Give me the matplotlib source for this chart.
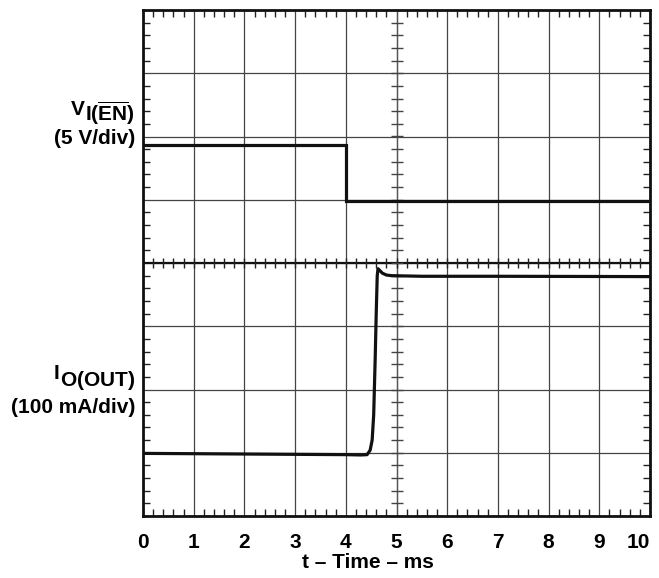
import matplotlib
matplotlib.use('Agg')
import matplotlib.pyplot as plt
from matplotlib.ticker import MultipleLocator
import numpy as np

plt.rcParams['font.family'] = ['Liberation Sans', 'DejaVu Sans']
plt.rcParams['font.weight'] = 'bold'
plt.rcParams['mathtext.fontset'] = 'custom'
plt.rcParams['mathtext.rm'] = 'Liberation Sans:bold'
plt.rcParams['mathtext.bf'] = 'Liberation Sans:bold'

# enable voltage trace (divisions, 0..8 from bottom)
v_t = [0.0, 4.0, 4.0, 10.0]
v_div = [5.86, 5.86, 4.98, 4.98]

# output current trace (divisions)
i_t = [0.0, 1.0, 2.0, 3.0, 4.0, 4.3, 4.42, 4.48, 4.52, 4.55, 4.58, 4.60,
       4.62, 4.635, 4.66, 4.72, 4.8, 4.9, 5.5, 7.0, 10.0]
i_div = [0.99, 0.985, 0.98, 0.975, 0.97, 0.965, 0.97, 1.04, 1.2, 1.6, 2.5, 3.2,
         3.8, 3.91, 3.89, 3.84, 3.81, 3.80, 3.79, 3.79, 3.785]

x_ticks = list(range(0, 11))
y_grid = list(range(0, 9))

W, H = 659, 578
fig = plt.figure(figsize=(W / 100, H / 100), dpi=100)
fig.patch.set_facecolor('white')
ax = fig.add_axes([143 / W, 1 - 516 / H, (650 - 143) / W, (516 - 10) / H])

ax.set_xlim(0, 10)
ax.set_ylim(0, 8)
ax.set_xticks(x_ticks)
ax.set_yticks(y_grid)
ax.set_yticklabels([])
ax.xaxis.set_minor_locator(MultipleLocator(0.2))
ax.yaxis.set_minor_locator(MultipleLocator(0.2))
ax.tick_params(which='major', length=0, pad=12, labelsize=15)
ax.tick_params(which='minor', direction='in', length=5, width=1,
               top=True, right=True, color='#222222')
for lab in ax.get_xticklabels():
    lab.set_fontweight('bold')
ax.get_xticklabels()[-1].set_horizontalalignment('right')
ax.get_xticklabels()[-1].set_x(10)

ax.grid(True, which='major', color='#444444', linewidth=0.9)
for sp in ax.spines.values():
    sp.set_linewidth(2)
    sp.set_color('#111111')

# centre graticule lines with crossing ticks
ax.axhline(4, color='#111111', linewidth=1.6, zorder=2)
ax.axvline(5, color='#555555', linewidth=0.9, zorder=2)
mt = np.arange(0.2, 10, 0.2)
ax.plot(mt, np.full(len(mt), 4.0), ls='none', marker='|', ms=7.5, mew=1,
        color='#222222', zorder=2)
my = np.arange(0.2, 8, 0.2)
ax.plot(np.full(len(my), 5.0), my, ls='none', marker='_', ms=9, mew=1,
        color='#444444', zorder=2)

ax.plot(v_t, v_div, color='#111111', linewidth=2.3, zorder=3,
        solid_joinstyle='miter')
ax.plot(i_t, i_div, color='#111111', linewidth=2.3, zorder=3)

fig.text(368 / W, 1 - 563 / H, 't \u2013 Time \u2013 ms', ha='center', va='center',
         fontsize=15, fontweight='bold')

# channel labels
renderer = fig.canvas.get_renderer()
xr = 135 / W


def channel_label(main, sub, y_main, y_sub, y_scale, scale):
    s = fig.text(xr, 1 - y_sub / H, sub, ha='right', va='baseline', fontsize=15)
    bb = s.get_window_extent(renderer)
    fig.text((bb.x0 - 0.5) / W, 1 - y_main / H, main, ha='right', va='baseline',
             fontsize=15, fontweight='bold')
    fig.text(xr, 1 - y_scale / H, scale, ha='right', va='baseline',
             fontsize=15, fontweight='bold')


channel_label('V', r'$\mathrm{I(\overline{EN})}$', 115, 121, 144, '(5 V/div)')
channel_label('I', r'$\mathrm{O(OUT)}$', 379, 386, 413, '(100 mA/div)')

fig.savefig('out.png', dpi=100)
